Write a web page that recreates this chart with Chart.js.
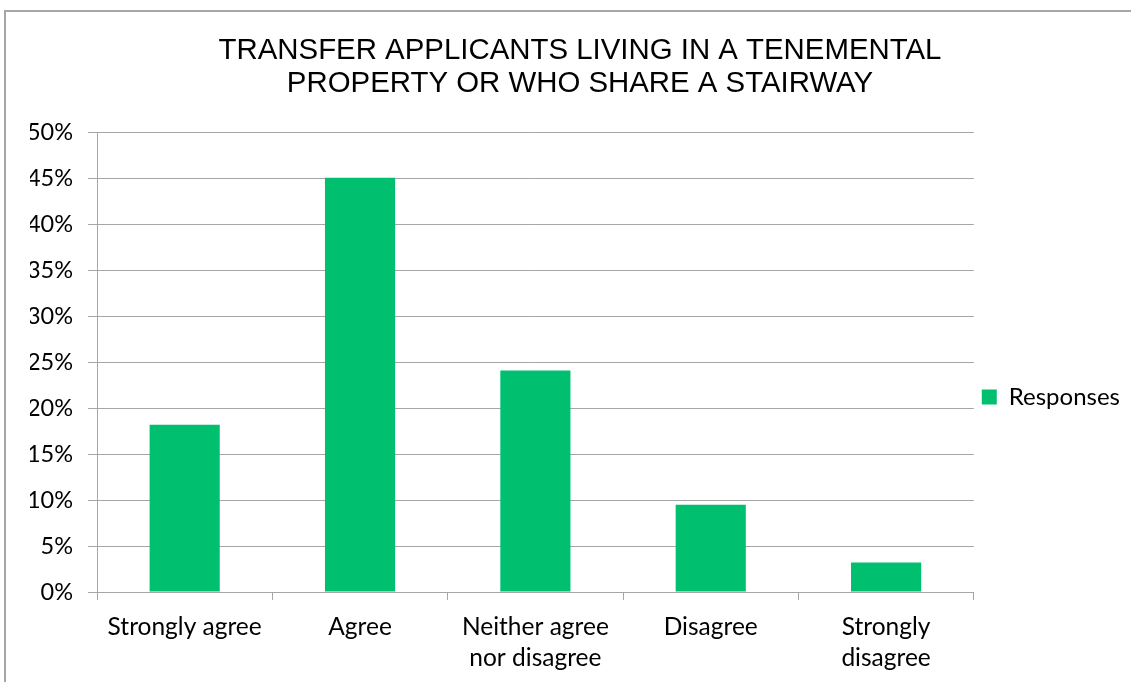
<!DOCTYPE html>
<html>
<head>
<meta charset="utf-8">
<script src="https://cdn.jsdelivr.net/npm/chart.js@4"></script>
<style>
  html, body { margin: 0; padding: 0; background: #fff; overflow: hidden; }
  #frame { position: absolute; left: 4px; top: 10px; width: 1140px; height: 690px; border: 2px solid #a6a6a6; box-sizing: border-box; }
  #wrap { position: absolute; left: 0; top: 0; width: 1131px; height: 682px; }
</style>
</head>
<body>
<div id="frame"></div>
<div id="wrap"><canvas id="chart" width="1131" height="682"></canvas></div>
<script>
const categories = [
  ["Strongly agree"],
  ["Agree"],
  ["Neither agree", "nor disagree"],
  ["Disagree"],
  ["Strongly", "disagree"],
];
const responses = [18.2, 45.1, 24.1, 9.5, 3.2];
const seriesName = "Responses";
const titleLines = ["TRANSFER APPLICANTS LIVING IN A TENEMENTAL", "PROPERTY OR WHO SHARE A STAIRWAY"];

const green = "#00bf6f";
const gridGray = "#a6a6a6";
const xFont = { family: "Lato, 'Open Sans', sans-serif", size: 24.5, lineHeight: 1.28 };
const yFont = { family: "Lato, 'Open Sans', sans-serif", size: 23.5 };

const ctx = document.getElementById("chart").getContext("2d");
new Chart(ctx, {
  type: "bar",
  data: {
    labels: categories,
    datasets: [{
      label: seriesName,
      data: responses,
      backgroundColor: green,
      borderWidth: 0,
      barPercentage: 0.4,
      categoryPercentage: 1,
    }],
  },
  options: {
    responsive: false,
    animation: false,
    layout: { padding: { left: 30, right: 1, top: 35, bottom: 0 } },
    scales: {
      x: {
        grid: {
          offset: true,
          drawOnChartArea: false,
          drawTicks: true,
          tickLength: 8,
          color: gridGray,
        },
        border: { color: gridGray, width: 1 },
        ticks: { color: "#000", font: xFont, padding: 11, maxRotation: 0 },
        afterFit: (scale) => { scale.height = 90; },
      },
      y: {
        min: 0,
        max: 50,
        ticks: {
          stepSize: 5,
          color: "#000",
          font: yFont,
          padding: 15,
          callback: (v) => v + "%",
        },
        grid: { color: gridGray, lineWidth: 1, tickLength: 9 },
        border: { color: gridGray, width: 1 },
        afterFit: (scale) => { scale.width = 67; },
      },
    },
    plugins: {
      title: {
        display: true,
        text: titleLines,
        color: "#000",
        font: { family: "'Liberation Sans', Arial, sans-serif", size: 29.4, weight: "normal", lineHeight: 1.1 },
        padding: { top: 0, bottom: 33 },
      },
      legend: {
        position: "right",
        title: {
          display: true,
          text: " ",
          font: { size: 64, lineHeight: 1.2 },
          padding: 0,
        },
        labels: {
          color: "#000",
          font: { family: "Lato, 'Open Sans', sans-serif", size: 24 },
          boxWidth: 15,
          boxHeight: 15,
          padding: 8,
        },
      },
      tooltip: { enabled: false },
    },
  },
});
</script>
</body>
</html>
